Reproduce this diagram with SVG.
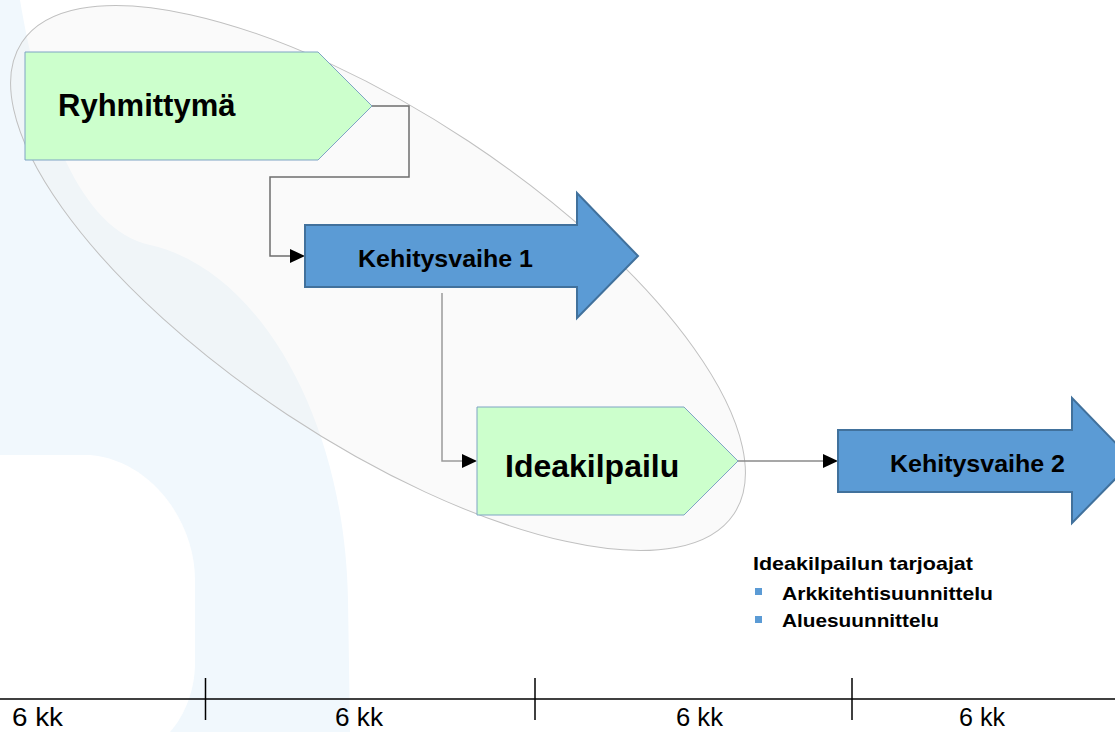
<svg xmlns="http://www.w3.org/2000/svg" width="1115" height="732" viewBox="0 0 1115 732">
<defs>
<style>
.bg{fill:#f1f8fd}
.green{fill:#ccffcc;stroke:#7fa4c4;stroke-width:1}
.blue{fill:#5b9bd5;stroke:#41719c;stroke-width:2}
.conn{fill:none;stroke-width:1.5}
.head{fill:#000}
.tl{fill:none;stroke:#000;stroke-width:1.5}
.big{font-family:"Liberation Sans",Arial,sans-serif;font-weight:bold;fill:#000}
.lbl{font-family:"Liberation Sans",Arial,sans-serif;font-weight:bold;fill:#000}
.kk{font-family:"Liberation Sans",Arial,sans-serif;font-size:26px;fill:#000}
.bullet{fill:#5b9bd5}
</style>
</defs>
<rect width="1115" height="732" fill="#fff"/>
<g id="background">
<path class="bg" d="M0,0 L20,0 C40,120 80,230 150,245 C260,270 345,420 348,600 L350,732 L0,732 Z"/>
<path fill="#fff" d="M0,455 L90,455 C150,460 195,520 195,580 L195,663 C195,690 185,715 170,732 L0,732 Z"/>
</g>
<g id="group-ellipse">
<ellipse cx="378" cy="278" rx="427" ry="164" transform="rotate(33.5 378 278)" fill="#ededed" fill-opacity="0.3" stroke="#c0c0c0" stroke-width="1"/>
</g>
<g id="connectors">
<path class="conn" d="M372,106 H409 V177 H270 V256 H292" stroke="#6d6d6d"/>
<path class="conn" d="M442,293 V461 H464" stroke="#9a9a9a"/>
<path class="conn" d="M738,461 H825" stroke="#8a8a8a"/>
<path class="head" d="M290,249 L305,256 L290,263 Z"/>
<path class="head" d="M462,454 L477,461 L462,468 Z"/>
<path class="head" d="M823,454 L838,461 L823,468 Z"/>
</g>
<g id="node-ryhmittyma">
<path class="green" d="M25,52 H318 L372,106 L318,160 H25 Z"/>
<text class="big" x="58" y="116" font-size="31">Ryhmittymä</text>
</g>
<g id="node-kehitysvaihe1">
<path class="blue" d="M305,225 H577 V193 L638,256 L577,318 V287 H305 Z"/>
<text class="lbl" x="358" y="267" font-size="24" textLength="175" lengthAdjust="spacingAndGlyphs">Kehitysvaihe 1</text>
</g>
<g id="node-ideakilpailu">
<path class="green" d="M477,407 H684 L738,461 L684,515 H477 Z"/>
<text class="big" x="505" y="477" font-size="32">Ideakilpailu</text>
</g>
<g id="node-kehitysvaihe2">
<path class="blue" d="M838,430 H1072 V398 L1133,461 L1072,523 V492 H838 Z"/>
<text class="lbl" x="890" y="472" font-size="24" textLength="175" lengthAdjust="spacingAndGlyphs">Kehitysvaihe 2</text>
</g>
<g id="text-tarjoajat">
<text class="lbl" x="753" y="570" font-size="19" textLength="220" lengthAdjust="spacingAndGlyphs">Ideakilpailun tarjoajat</text>
<rect class="bullet" x="755" y="588" width="7" height="7"/>
<text class="lbl" x="782" y="600" font-size="19" textLength="211" lengthAdjust="spacingAndGlyphs">Arkkitehtisuunnittelu</text>
<rect class="bullet" x="755" y="616" width="7" height="7"/>
<text class="lbl" x="782" y="627" font-size="19" textLength="157" lengthAdjust="spacingAndGlyphs">Aluesuunnittelu</text>
</g>
<g id="timeline">
<line class="tl" x1="0" y1="699" x2="1115" y2="699"/>
<line class="tl" x1="205.5" y1="678" x2="205.5" y2="720" stroke-width="1.2"/>
<line class="tl" x1="535" y1="678" x2="535" y2="720" stroke-width="1.2"/>
<line class="tl" x1="852" y1="678" x2="852" y2="720" stroke-width="1.2"/>
<text class="kk" x="12" y="726" textLength="51" lengthAdjust="spacingAndGlyphs">6 kk</text>
<text class="kk" x="335" y="726" textLength="48" lengthAdjust="spacingAndGlyphs">6 kk</text>
<text class="kk" x="676" y="726" textLength="47" lengthAdjust="spacingAndGlyphs">6 kk</text>
<text class="kk" x="959" y="726" textLength="46" lengthAdjust="spacingAndGlyphs">6 kk</text>
</g>
</svg>
